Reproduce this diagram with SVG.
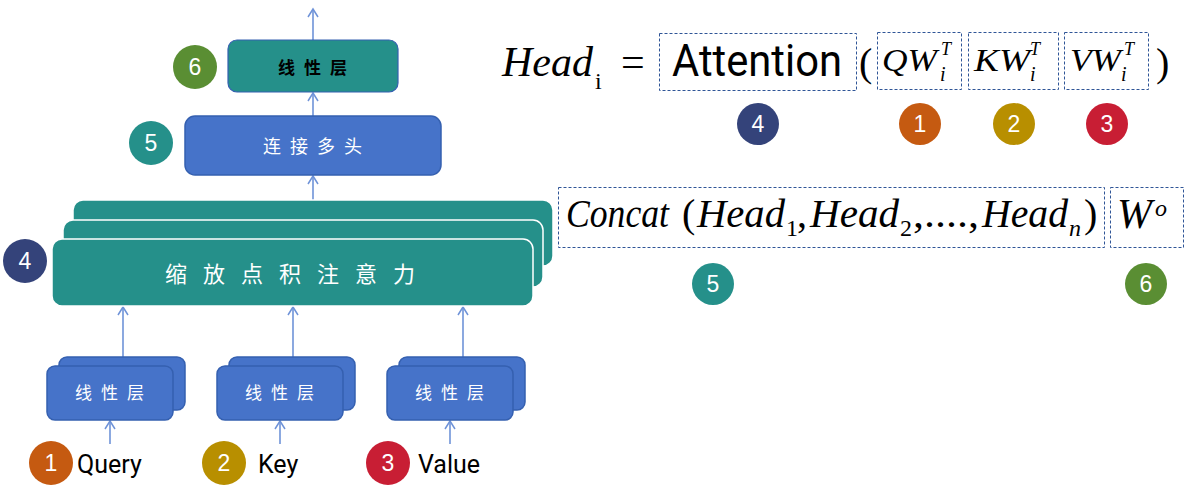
<svg xmlns="http://www.w3.org/2000/svg" width="1190" height="496" viewBox="0 0 1190 496">
<defs>
<style>
.teal{fill:#25908A}
.blue{fill:#4673C9;stroke:#3560B0;stroke-width:1.5}
.stack{fill:#25908A;stroke:#ffffff;stroke-width:1.5}
.cn{font-family:"Noto Sans CJK SC",sans-serif;font-size:17px;fill:#fff;text-anchor:middle;letter-spacing:9px}
.num{font-family:"Liberation Sans",Arial,sans-serif;font-size:23px;fill:#fff;text-anchor:middle}
.lab{font-family:Roboto,"Noto Sans",sans-serif;font-size:25px;fill:#000}
.conn{stroke:#6F93D8;stroke-width:1.6;fill:none;marker-end:url(#ah)}
.dash{fill:none;stroke:#2F5597;stroke-width:1;stroke-dasharray:3 2}
.m{font-family:"Liberation Serif","Times New Roman",serif;fill:#000}
.it{font-style:italic}
</style>
<marker id="ah" markerWidth="12" markerHeight="12" refX="9" refY="6" orient="auto" markerUnits="userSpaceOnUse">
<path d="M1,1 L9,6 L1,11" fill="none" stroke="#6F93D8" stroke-width="1.5"/>
</marker>
</defs>
<rect width="1190" height="496" fill="#fff"/>

<g id="connectors">
<line class="conn" x1="313" y1="40" x2="313" y2="9"/>
<line class="conn" x1="313" y1="116" x2="313" y2="93"/>
<line class="conn" x1="313" y1="200" x2="313" y2="176"/>
<line class="conn" x1="123" y1="357" x2="123" y2="307"/>
<line class="conn" x1="293" y1="357" x2="293" y2="307"/>
<line class="conn" x1="463" y1="357" x2="463" y2="307"/>
<line class="conn" x1="110" y1="444" x2="110" y2="421"/>
<line class="conn" x1="280" y1="444" x2="280" y2="421"/>
<line class="conn" x1="450" y1="444" x2="450" y2="421"/>
</g>

<g id="linear-top">
<rect x="228" y="40" width="170" height="52" rx="9" fill="#25908A" stroke="#3560B0" stroke-width="1.2"/>
<text class="cn" x="317" y="74" style="fill:#000;font-weight:bold">线性层</text>
</g>
<g id="badge-6-left"><circle cx="195" cy="67" r="22" fill="#5A8E33"/><text class="num" x="195" y="75">6</text></g>

<g id="concat-heads">
<rect class="blue" x="185" y="116" width="256" height="59" rx="10"/>
<text class="cn" x="317" y="153" style="font-size:18px">连接多头</text>
</g>
<g id="badge-5-left"><circle cx="151" cy="143" r="22" fill="#25908A"/><text class="num" x="151" y="151">5</text></g>

<g id="attention-stack">
<rect class="stack" x="73" y="200" width="480" height="66" rx="10"/>
<rect class="stack" x="63" y="220" width="480" height="67" rx="10"/>
<rect class="stack" x="52" y="239" width="481" height="67" rx="10"/>
<text class="cn" x="298" y="282" style="font-size:22px;letter-spacing:16px">缩放点积注意力</text>
</g>
<g id="badge-4-left"><circle cx="25" cy="261" r="22" fill="#34437A"/><text class="num" x="25" y="269">4</text></g>

<g id="linear-q">
<rect class="blue" x="59" y="357" width="126" height="53" rx="8"/>
<rect class="blue" x="47" y="366" width="126" height="54" rx="8"/>
<text class="cn" x="114" y="399">线性层</text>
</g>
<g id="linear-k">
<rect class="blue" x="229" y="357" width="126" height="53" rx="8"/>
<rect class="blue" x="217" y="366" width="126" height="54" rx="8"/>
<text class="cn" x="284" y="399">线性层</text>
</g>
<g id="linear-v">
<rect class="blue" x="399" y="357" width="126" height="53" rx="8"/>
<rect class="blue" x="387" y="366" width="126" height="54" rx="8"/>
<text class="cn" x="454" y="399">线性层</text>
</g>

<g id="input-query"><circle cx="51" cy="463" r="22" fill="#C55A11"/><text class="num" x="51" y="471">1</text><text class="lab" x="77" y="473">Query</text></g>
<g id="input-key"><circle cx="224" cy="463" r="22" fill="#B88F00"/><text class="num" x="224" y="471">2</text><text class="lab" x="258" y="473">Key</text></g>
<g id="input-value"><circle cx="388" cy="463" r="22" fill="#C81E34"/><text class="num" x="388" y="471">3</text><text class="lab" x="418" y="473">Value</text></g>

<g id="formula-head">
<text class="m it" x="502" y="76" font-size="42" textLength="91" lengthAdjust="spacingAndGlyphs">Head</text>
<text class="m" x="595" y="89" font-size="24">i</text>
<text class="m" x="621" y="76" font-size="42">=</text>
<rect class="dash" x="659.5" y="33.5" width="197" height="57"/>
<text x="672" y="76" font-family="Roboto,'Noto Sans',sans-serif" font-size="44" textLength="170" lengthAdjust="spacingAndGlyphs">Attention</text>
<text class="m" x="859" y="76" font-size="40">(</text>
<rect class="dash" x="877.5" y="32.5" width="84" height="57"/>
<text class="m it" x="882" y="71" font-size="31" textLength="55" lengthAdjust="spacingAndGlyphs">QW</text>
<text class="m it" x="941" y="55" font-size="18">T</text>
<text class="m it" x="940" y="81" font-size="20">i</text>
<rect class="dash" x="968.5" y="32.5" width="90" height="57"/>
<text class="m it" x="974" y="71" font-size="31" textLength="56" lengthAdjust="spacingAndGlyphs">KW</text>
<text class="m it" x="1030" y="55" font-size="18">T</text>
<text class="m it" x="1030" y="81" font-size="20">i</text>
<rect class="dash" x="1064.5" y="32.5" width="84" height="57"/>
<text class="m it" x="1070" y="71" font-size="31" textLength="51" lengthAdjust="spacingAndGlyphs">VW</text>
<text class="m it" x="1124" y="55" font-size="18">T</text>
<text class="m it" x="1121" y="81" font-size="20">i</text>
<text class="m" x="1156" y="76" font-size="40">)</text>
</g>
<g id="badges-row1">
<circle cx="758" cy="124" r="21" fill="#34437A"/><text class="num" x="758" y="132">4</text>
<circle cx="920" cy="124" r="21" fill="#C55A11"/><text class="num" x="920" y="132">1</text>
<circle cx="1014" cy="124" r="21" fill="#B88F00"/><text class="num" x="1014" y="132">2</text>
<circle cx="1107" cy="124" r="21" fill="#C81E34"/><text class="num" x="1107" y="132">3</text>
</g>

<g id="formula-concat">
<rect class="dash" x="558.5" y="187.5" width="546" height="60"/>
<text class="m it" x="566" y="227" font-size="40" textLength="103" lengthAdjust="spacingAndGlyphs">Concat</text>
<text class="m" x="682" y="227" font-size="40">(</text>
<text class="m it" x="697" y="227" font-size="40" textLength="88" lengthAdjust="spacingAndGlyphs">Head</text>
<text class="m" x="786" y="236" font-size="24">1</text>
<text class="m" x="797" y="227" font-size="40">,</text>
<text class="m it" x="810" y="227" font-size="40" textLength="89" lengthAdjust="spacingAndGlyphs">Head</text>
<text class="m" x="900" y="236" font-size="24">2</text>
<text class="m" x="913" y="227" font-size="40" textLength="66" lengthAdjust="spacingAndGlyphs">,....,</text>
<text class="m it" x="982" y="227" font-size="40" textLength="86" lengthAdjust="spacingAndGlyphs">Head</text>
<text class="m it" x="1069" y="236" font-size="24">n</text>
<text class="m" x="1084" y="227" font-size="40">)</text>
<rect class="dash" x="1110.5" y="187.5" width="73" height="60"/>
<text class="m it" x="1117" y="228" font-size="42">W</text>
<text class="m it" x="1155" y="216" font-size="24">o</text>
</g>
<g id="badges-row2">
<circle cx="713" cy="284" r="21" fill="#25908A"/><text class="num" x="713" y="292">5</text>
<circle cx="1146" cy="284" r="21" fill="#5A8E33"/><text class="num" x="1146" y="292">6</text>
</g>
</svg>
